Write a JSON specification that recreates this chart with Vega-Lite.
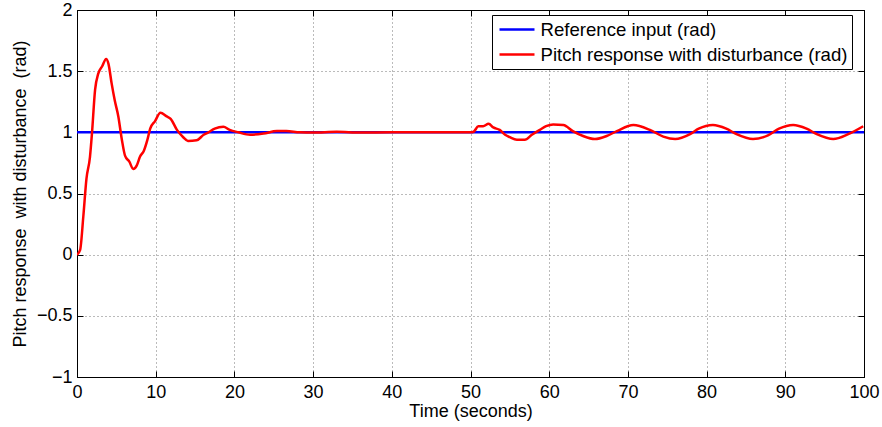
{
  "$schema": "https://vega.github.io/schema/vega-lite/v6.json",
  "width": 787,
  "height": 367,
  "autosize": {"type": "none"},
  "padding": {"left": 77, "top": 10, "right": 18, "bottom": 50},
  "background": "white",
  "config": {
    "font": "Liberation Sans",
    "view": {"stroke": "black", "strokeWidth": 1},
    "axis": {
      "labelFont": "Liberation Sans",
      "titleFont": "Liberation Sans",
      "labelFontSize": 18,
      "titleFontSize": 18,
      "titleFontWeight": "normal",
      "labelColor": "black",
      "titleColor": "black",
      "domainColor": "black",
      "tickColor": "black",
      "tickSize": -6,
      "labelFlush": false,
      "labelOverlap": false,
      "gridColor": "#777",
      "gridDash": [1, 3],
      "gridWidth": 1
    }
  },
  "datasets": {
    "ref": [
      {"t": 0, "y": 1, "series": "Reference input (rad)"},
      {"t": 100, "y": 1, "series": "Reference input (rad)"}
    ],
    "resp": [
      {"t": 0, "y": 0}, {"t": 0.4, "y": 0.04}, {"t": 0.8, "y": 0.31}, {"t": 1.2, "y": 0.62},
      {"t": 1.65, "y": 0.8}, {"t": 1.9, "y": 0.99}, {"t": 2.3, "y": 1.35}, {"t": 2.7, "y": 1.48},
      {"t": 3.2, "y": 1.54}, {"t": 3.7, "y": 1.6}, {"t": 4.0, "y": 1.56}, {"t": 4.4, "y": 1.4},
      {"t": 4.8, "y": 1.26}, {"t": 5.25, "y": 1.13}, {"t": 5.7, "y": 0.94}, {"t": 6.1, "y": 0.81},
      {"t": 6.65, "y": 0.76}, {"t": 7.15, "y": 0.7}, {"t": 7.6, "y": 0.73}, {"t": 8.0, "y": 0.8},
      {"t": 8.5, "y": 0.85}, {"t": 8.95, "y": 0.94}, {"t": 9.3, "y": 1.03}, {"t": 9.9, "y": 1.09},
      {"t": 10.6, "y": 1.16}, {"t": 11.4, "y": 1.13}, {"t": 11.9, "y": 1.11}, {"t": 12.7, "y": 1.02},
      {"t": 13.5, "y": 0.96}, {"t": 14.1, "y": 0.93}, {"t": 15.2, "y": 0.935}, {"t": 16.1, "y": 0.98},
      {"t": 16.7, "y": 1.0}, {"t": 17.5, "y": 1.03}, {"t": 18.6, "y": 1.045}, {"t": 19.4, "y": 1.02},
      {"t": 20.5, "y": 1.0}, {"t": 22, "y": 0.98}, {"t": 23.7, "y": 0.99}, {"t": 25.4, "y": 1.01},
      {"t": 26.6, "y": 1.01}, {"t": 28.3, "y": 1.0}, {"t": 30, "y": 0.998}, {"t": 33, "y": 1.004},
      {"t": 36, "y": 0.999}, {"t": 40, "y": 1.0}, {"t": 45, "y": 1.0}, {"t": 50, "y": 1.0},
      {"t": 50.4, "y": 1.005}, {"t": 51.0, "y": 1.05}, {"t": 51.6, "y": 1.05}, {"t": 52.3, "y": 1.07},
      {"t": 52.9, "y": 1.04}, {"t": 53.7, "y": 1.02}, {"t": 54.4, "y": 0.98}, {"t": 55.0, "y": 0.96},
      {"t": 55.9, "y": 0.94}, {"t": 56.9, "y": 0.94}, {"t": 57.8, "y": 0.98}, {"t": 58.8, "y": 1.02},
      {"t": 59.6, "y": 1.05}, {"t": 60.5, "y": 1.065}, {"t": 61.8, "y": 1.06}, {"t": 63.0, "y": 1.01},
      {"t": 64.3, "y": 0.97}, {"t": 65.8, "y": 0.945}, {"t": 67.3, "y": 0.97}, {"t": 68.6, "y": 1.01},
      {"t": 70.7, "y": 1.06}, {"t": 72.8, "y": 1.02}, {"t": 74.5, "y": 0.965}, {"t": 76.0, "y": 0.945},
      {"t": 77.9, "y": 0.985}, {"t": 79.0, "y": 1.03}, {"t": 80.8, "y": 1.06}, {"t": 82.5, "y": 1.03},
      {"t": 83.8, "y": 0.985}, {"t": 85.9, "y": 0.945}, {"t": 87.8, "y": 0.975}, {"t": 89.2, "y": 1.03},
      {"t": 91.0, "y": 1.06}, {"t": 92.7, "y": 1.03}, {"t": 94.0, "y": 0.985}, {"t": 96.1, "y": 0.945},
      {"t": 98.0, "y": 0.985}, {"t": 99.9, "y": 1.05}
    ]
  },
  "layer": [
    {
      "data": {"name": "ref"},
      "mark": {"type": "line", "strokeWidth": 2.5, "clip": true},
      "encoding": {
        "x": {"field": "t", "type": "quantitative", "scale": {"domain": [0, 100], "nice": false},
              "axis": {"title": "Time (seconds)", "values": [0,10,20,30,40,50,60,70,80,90,100], "labelPadding": 12, "titlePadding": 1, "grid": true}},
        "y": {"field": "y", "type": "quantitative", "scale": {"domain": [-1, 2], "nice": false, "zero": false},
              "axis": {"title": "Pitch response\u00a0 with disturbance\u00a0 (rad)", "values": [-1,-0.5,0,0.5,1,1.5,2], "format": "~g", "labelPadding": 11, "titlePadding": 7, "grid": true}},
        "color": {
          "datum": "Reference input (rad)",
          "type": "nominal",
          "scale": {"domain": ["Reference input (rad)", "Pitch response with disturbance (rad)"], "range": ["#0000ff", "#ff0000"]},
          "legend": {
            "title": null, "orient": "none", "legendX": 415, "legendY": 5,
            "symbolType": "M-1.944,0H1.944", "symbolSize": 324, "symbolStrokeWidth": 2.5, "symbolOffset": 10.5,
            "labelFontSize": 18.6, "labelFont": "Liberation Sans", "labelColor": "black", "labelLimit": 0,
            "strokeColor": "black", "fillColor": "white", "padding": 4, "rowPadding": 4, "labelOffset": 13
          }
        }
      }
    },
    {
      "data": {"name": "resp"},
      "mark": {"type": "line", "strokeWidth": 2.5, "interpolate": "monotone", "clip": true},
      "encoding": {
        "x": {"field": "t", "type": "quantitative", "axis": null},
        "y": {"field": "y", "type": "quantitative", "axis": null},
        "color": {"datum": "Pitch response with disturbance (rad)", "type": "nominal"}
      }
    },
    {
      "data": {"name": "ref"},
      "mark": {"type": "line", "opacity": 0},
      "encoding": {
        "x": {"field": "t", "type": "quantitative", "axis": {"orient": "top", "labels": false, "title": null, "grid": false, "values": [0,10,20,30,40,50,60,70,80,90,100]}},
        "y": {"field": "y", "type": "quantitative", "axis": {"orient": "right", "labels": false, "title": null, "grid": false, "values": [-1,-0.5,0,0.5,1,1.5,2]}}
      }
    }
  ],
  "resolve": {"axis": {"x": "independent", "y": "independent"}}
}
